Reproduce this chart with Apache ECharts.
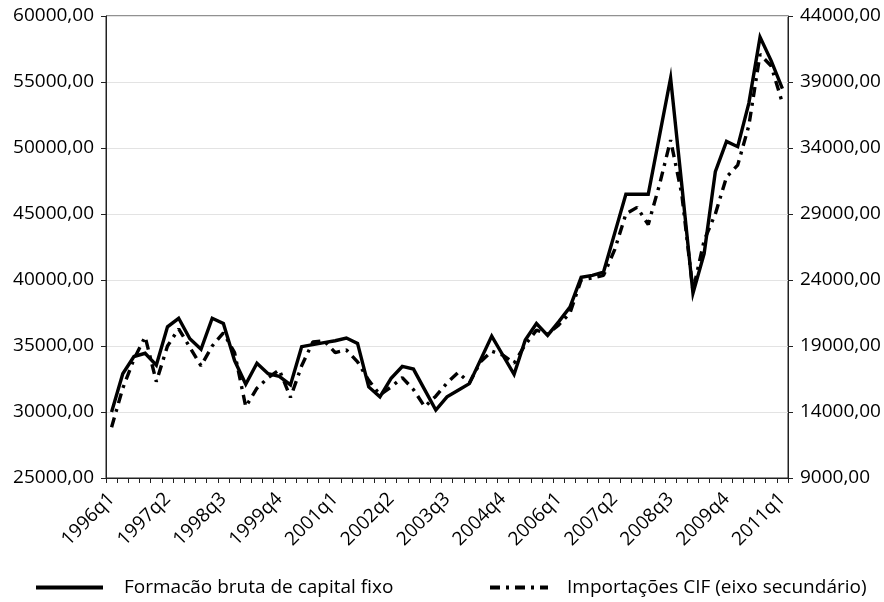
<!DOCTYPE html>
<html>
<head>
<meta charset="utf-8">
<script src="https://cdn.jsdelivr.net/npm/echarts@6/dist/echarts.min.js"></script>
<style>
  html, body { margin: 0; padding: 0; background: #fff; }
  #chart { width: 884px; height: 602px; }
</style>
</head>
<body>
<div id="chart"></div>
<script>
// trimestres
const quarters = [
  "1996q1", "1996q2", "1996q3", "1996q4", "1997q1", "1997q2", "1997q3", "1997q4",
  "1998q1", "1998q2", "1998q3", "1998q4", "1999q1", "1999q2", "1999q3", "1999q4",
  "2000q1", "2000q2", "2000q3", "2000q4", "2001q1", "2001q2", "2001q3", "2001q4",
  "2002q1", "2002q2", "2002q3", "2002q4", "2003q1", "2003q2", "2003q3", "2003q4",
  "2004q1", "2004q2", "2004q3", "2004q4", "2005q1", "2005q2", "2005q3", "2005q4",
  "2006q1", "2006q2", "2006q3", "2006q4", "2007q1", "2007q2", "2007q3", "2007q4",
  "2008q1", "2008q2", "2008q3", "2008q4", "2009q1", "2009q2", "2009q3", "2009q4",
  "2010q1", "2010q2", "2010q3", "2010q4", "2011q1"
];

// Formacão bruta de capital fixo (eixo principal)
const fbcf = [
  30000, 32900, 34200, 34450, 33550, 36450, 37100, 35550, 34750, 37100,
  36700, 33900, 32100, 33700, 32900, 32700, 32050, 34950, 35100, 35250,
  35400, 35600, 35200, 31900, 31150, 32550, 33450, 33250, 31700, 30150,
  31150, 31650, 32150, 33950, 35750, 34300, 32850, 35450, 36700, 35800,
  36850, 37950, 40200, 40350, 40600, 43550, 46500, 46500, 46500, 50900,
  55300, 47200, 39000, 42000, 48200, 50500, 50100, 53400, 58400, 56600,
  54500
];

// Importações CIF (eixo secundário)
const importacoes = [
  12850, 15800, 18000, 19700, 16300, 19000, 20300, 18900, 17500, 19000,
  20000, 18500, 14400, 15800, 16600, 17200, 15100, 17500, 19300, 19400,
  18500, 18700, 17800, 16400, 15300, 15900, 16600, 15700, 14400, 15200,
  16200, 17000, 16200, 17800, 18600, 18300, 17700, 19100, 20200, 19900,
  20600, 21500, 24000, 24150, 24350, 26300, 29000, 29500, 28200, 31200,
  34600, 30500, 23200, 27000, 29000, 31800, 32700, 35700, 41100, 40200,
  37400
];

const leftAxisRange = [25000, 60000];
const rightAxisRange = [9000, 44000];
const axisStep = 5000;

const serieNames = ["Formacão bruta de capital fixo", "Importações CIF (eixo secundário)"];

const fontFamily = "'Open Sans', 'Noto Sans', sans-serif";
const fmt = (v) => v.toFixed(2).replace(".", ",");

const chart = echarts.init(document.getElementById("chart"));

const option = {
  backgroundColor: "#fff",
  animation: false,
  textStyle: { fontFamily: fontFamily },
  grid: {
    left: 106,
    right: 96,
    top: 16,
    bottom: 124,
    show: true,
    borderColor: "#222",
    borderWidth: 1,
  },
  legend: [
    {
      data: [serieNames[0]],
      left: 29,
      top: 573,
      itemWidth: 67,
      itemHeight: 10,
      itemStyle: { opacity: 0 },
      lineStyle: { width: 4 },
      textStyle: {
        fontSize: 19,
        color: "#000",
        fontFamily: fontFamily,
        padding: [0, 0, 0, 16],
      },
    },
    {
      data: [serieNames[1]],
      left: 483,
      top: 573,
      itemWidth: 58,
      itemHeight: 10,
      itemStyle: { opacity: 0 },
      lineStyle: { width: 4 },
      textStyle: {
        fontSize: 19,
        color: "#000",
        fontFamily: fontFamily,
        padding: [0, 0, 0, 14],
      },
    },
  ],
  xAxis: {
    type: "category",
    data: quarters,
    boundaryGap: true,
    axisLine: { lineStyle: { color: "#222", width: 1 } },
    axisTick: {
      show: true,
      interval: 0,
      length: 5,
      inside: false,
      lineStyle: { color: "#222" },
    },
    axisLabel: {
      interval: 4,
      rotate: 45,
      margin: 18,
      fontSize: 19,
      color: "#000",
      fontFamily: fontFamily,
    },
    splitLine: { show: false },
  },
  yAxis: [
    {
      type: "value",
      min: leftAxisRange[0],
      max: leftAxisRange[1],
      interval: axisStep,
      axisLine: { show: true, lineStyle: { color: "#222", width: 1 } },
      axisTick: { show: true, length: 5, lineStyle: { color: "#222" } },
      axisLabel: {
        formatter: fmt,
        margin: 12,
        fontSize: 19,
        color: "#000",
        fontFamily: fontFamily,
      },
      splitLine: { show: true, lineStyle: { color: "#e3e3e3", width: 1 } },
    },
    {
      type: "value",
      min: rightAxisRange[0],
      max: rightAxisRange[1],
      interval: axisStep,
      position: "right",
      axisLine: { show: true, lineStyle: { color: "#222", width: 1 } },
      axisTick: { show: true, length: 5, lineStyle: { color: "#222" } },
      axisLabel: {
        formatter: fmt,
        margin: 12,
        fontSize: 19,
        color: "#000",
        fontFamily: fontFamily,
      },
      splitLine: { show: false },
    },
  ],
  series: [
    {
      name: serieNames[0],
      type: "line",
      yAxisIndex: 0,
      data: fbcf,
      symbol: "none",
      showSymbol: false,
      color: "#000",
      lineStyle: { color: "#000", width: 3.4, type: "solid", join: "miter" },
    },
    {
      name: serieNames[1],
      type: "line",
      yAxisIndex: 1,
      data: importacoes,
      symbol: "none",
      showSymbol: false,
      color: "#000",
      lineStyle: { color: "#000", width: 3.4, type: [10, 6, 3, 6], cap: "butt" },
    },
  ],
};

chart.setOption(option);
</script>
</body>
</html>
